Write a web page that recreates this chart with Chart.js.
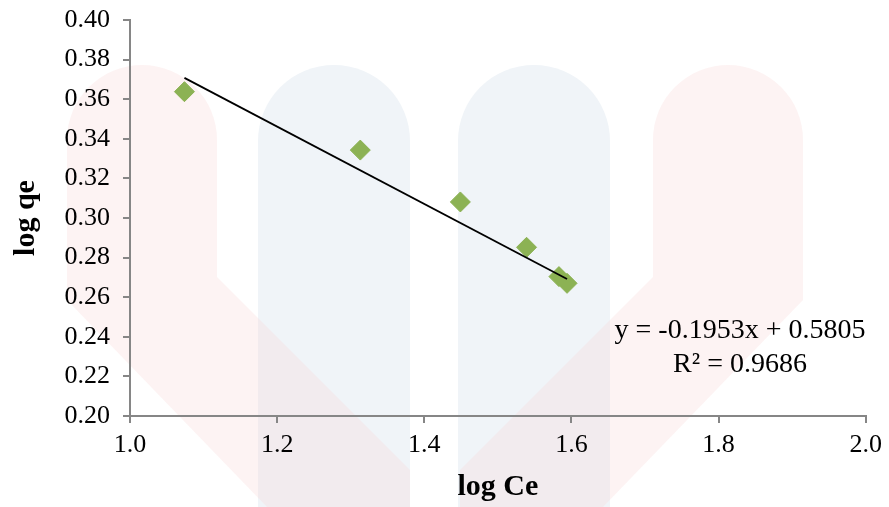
<!DOCTYPE html>
<html>
<head>
<meta charset="utf-8">
<script src="https://cdn.jsdelivr.net/npm/chart.js@4"></script>
<style>
  body { margin: 0; background: #fff; }
  #wrap { width: 889px; height: 507px; position: relative; }
</style>
</head>
<body>
<div id="wrap"><canvas id="chart"></canvas></div>
<script>
const ctx = document.getElementById("chart").getContext('2d');

// data
const logCe = [1.074, 1.313, 1.449, 1.539, 1.583, 1.594];
const logQe = [0.3638, 0.3343, 0.3081, 0.2852, 0.2704, 0.2670];
const fitSlope = [-0.1953];
const fitIntercept = [0.5805];
const fitLabels = ["y = -0.1953x + 0.5805", "R\u00b2 = 0.9686"];

const points = logCe.map((x, i) => ({ x: x, y: logQe[i] }));
const xMin = Math.min(...logCe);
const xMax = Math.max(...logCe);
const trend = [xMin, xMax].map(x => ({ x: x, y: fitSlope[0] * x + fitIntercept[0] }));

const axisGray = "#868686";
const serif = "'Liberation Serif', 'Times New Roman', serif";

// faint logo watermark behind the plot
const watermark = {
  id: "watermark",
  beforeDraw(chart) {
    const c = chart.ctx;
    c.save();
    c.fillStyle = "#ffffff";
    c.fillRect(0, 0, chart.width, chart.height);

    c.fillStyle = "#f0f4f8";
    [[258, 410], [458, 610]].forEach(function (p) {
      const r = (p[1] - p[0]) / 2;
      c.beginPath();
      c.moveTo(p[0], 507);
      c.lineTo(p[0], 65 + r);
      c.arc(p[0] + r, 65 + r, r, Math.PI, 0);
      c.lineTo(p[1], 507);
      c.closePath();
      c.fill();
    });

    c.fillStyle = "rgba(250, 215, 215, 0.3)";
    c.beginPath();
    c.moveTo(67, 300);
    c.lineTo(67, 140);
    c.arc(142, 140, 75, Math.PI, 0);
    c.lineTo(217, 277);
    c.lineTo(410, 470);
    c.lineTo(410, 507);
    c.lineTo(267, 507);
    c.closePath();
    c.fill();

    c.beginPath();
    c.moveTo(803, 300);
    c.lineTo(803, 140);
    c.arc(728, 140, 75, 0, Math.PI, true);
    c.lineTo(653, 277);
    c.lineTo(460, 470);
    c.lineTo(460, 507);
    c.lineTo(603, 507);
    c.closePath();
    c.fill();
    c.restore();
  }
};

// trendline equation text
const equation = {
  id: "equation",
  afterDraw(chart) {
    const c = chart.ctx;
    c.save();
    c.fillStyle = "#000";
    c.font = "28px " + serif;
    c.textAlign = "center";
    c.textBaseline = "alphabetic";
    c.fillText(fitLabels[0], 740, 338);
    c.fillText(fitLabels[1], 740, 372);
    c.restore();
  }
};

new Chart(ctx, {
  type: "scatter",
  data: {
    datasets: [{
      label: "Linear",
      type: "line",
      data: trend,
      borderColor: "#000000",
      borderWidth: 1.8,
      pointRadius: 0,
      fill: false,
      order: 0
    }, {
      label: "log qe",
      data: points,
      pointStyle: "rectRot",
      pointRadius: 10,
      pointHoverRadius: 10,
      backgroundColor: "#8cb254",
      borderColor: "#8cb254",
      borderWidth: 1,
      order: 1
    }]
  },
  options: {
    responsive: true,
    maintainAspectRatio: false,
    animation: false,
    layout: { padding: { top: 20, right: 23, left: 0, bottom: 0 } },
    plugins: {
      legend: { display: false },
      tooltip: { enabled: false }
    },
    scales: {
      x: {
        type: "linear",
        min: 1.0,
        max: 2.0,
        afterFit: function (scale) { scale.height = 91; },
        border: { color: axisGray, width: 2 },
        grid: { drawOnChartArea: false, drawTicks: true, tickLength: 7, color: axisGray, lineWidth: 2 },
        ticks: {
          stepSize: 0.2,
          padding: 7,
          color: "#000",
          font: { family: serif, size: 26 },
          callback: v => v.toFixed(1)
        },
        title: {
          display: true,
          text: "log Ce",
          color: "#000",
          font: { family: serif, size: 30, weight: "bold" },
          padding: { top: 0, bottom: 2 }
        }
      },
      y: {
        min: 0.20,
        max: 0.40,
        afterFit: function (scale) { scale.width = 130; },
        border: { color: axisGray, width: 2 },
        grid: { drawOnChartArea: false, drawTicks: true, tickLength: 7, color: axisGray, lineWidth: 2 },
        ticks: {
          stepSize: 0.02,
          padding: 13,
          color: "#000",
          font: { family: serif, size: 26, lineHeight: 0.4 },
          callback: v => v.toFixed(2)
        },
        title: {
          display: true,
          text: "log qe",
          color: "#000",
          font: { family: serif, size: 30, weight: "bold" },
          padding: { top: 8, bottom: 0 }
        }
      }
    }
  },
  plugins: [watermark, equation]
});
</script>
</body>
</html>
